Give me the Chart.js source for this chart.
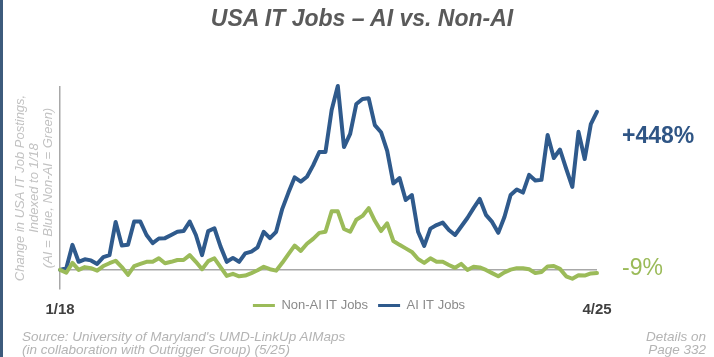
<!DOCTYPE html>
<html>
<head>
<meta charset="utf-8">
<script src="https://cdn.jsdelivr.net/npm/chart.js@4/dist/chart.umd.min.js"></script>
<style>
  html, body { margin: 0; padding: 0; background: #ffffff; }
  #wrap { position: relative; width: 714px; height: 357px; overflow: hidden; font-family: "Liberation Sans", Arial, sans-serif; }
  #c { position: absolute; left: 0; top: 0; }
  .t { position: absolute; white-space: nowrap; }
  #edge { position: absolute; left: 0; top: 0; width: 3px; height: 357px; background: #3d5b7c; }
  #title { left: 0; width: 724px; top: 7px; text-align: center; font-size: 23px; line-height: 23px; font-weight: bold; font-style: italic; color: #5a5a5a; }
  #lblAI { left: 622px; top: 124px; font-size: 23px; line-height: 23px; font-weight: bold; color: #2f5585; }
  #lblNon { left: 622px; top: 256px; font-size: 23px; line-height: 23px; color: #9bbb59; }
  #source { left: 22px; top: 330px; font-size: 13.5px; line-height: 13px; font-style: italic; color: #b4b4b4; }
  #details { right: 8px; top: 330px; font-size: 13.5px; line-height: 13px; font-style: italic; color: #b4b4b4; text-align: right; }
</style>
</head>
<body>
<div id="wrap">
  <canvas id="c" width="714" height="357"></canvas>
  <div id="edge"></div>
  <div class="t" id="title">USA IT Jobs – AI vs. Non-AI</div>
  <div class="t" id="lblAI">+448%</div>
  <div class="t" id="lblNon">-9%</div>
  <div class="t" id="source">Source: University of Maryland's UMD-LinkUp AIMaps<br>(in collaboration with Outrigger Group) (5/25)</div>
  <div class="t" id="details">Details on<br>Page 332</div>
</div>
<script>
// Monthly categories, 1/18 … 4/25
const months = [
  "1/18","2/18","3/18","4/18","5/18","6/18","7/18","8/18","9/18","10/18","11/18","12/18",
  "1/19","2/19","3/19","4/19","5/19","6/19","7/19","8/19","9/19","10/19","11/19","12/19",
  "1/20","2/20","3/20","4/20","5/20","6/20","7/20","8/20","9/20","10/20","11/20","12/20",
  "1/21","2/21","3/21","4/21","5/21","6/21","7/21","8/21","9/21","10/21","11/21","12/21",
  "1/22","2/22","3/22","4/22","5/22","6/22","7/22","8/22","9/22","10/22","11/22","12/22",
  "1/23","2/23","3/23","4/23","5/23","6/23","7/23","8/23","9/23","10/23","11/23","12/23",
  "1/24","2/24","3/24","4/24","5/24","6/24","7/24","8/24","9/24","10/24","11/24","12/24",
  "1/25","2/25","3/25","4/25"
];

// % change vs 1/18
const aiJobs = [
  0, 5, 71, 23, 30, 27, 17, 36, 42, 136, 69, 71,
  137, 137, 99, 76, 89, 90, 99, 108, 110, 137, 99, 42,
  110, 118, 66, 23, 34, 23, 47, 52, 64, 108, 90, 108,
  173, 219, 262, 250, 264, 296, 334, 334, 453, 521, 348, 385,
  470, 484, 486, 410, 390, 337, 245, 260, 198, 212, 108, 68,
  117, 127, 134, 113, 99, 123, 147, 175, 201, 156, 136, 105,
  150, 212, 228, 219, 269, 253, 255, 382, 317, 341, 287, 235,
  391, 314, 413, 448
];

const nonAiJobs = [
  0, -8, 20, 0, 8, 5, -2, 11, 19, 26, 8, -14,
  11, 17, 23, 23, 33, 19, 23, 28, 28, 42, 23, 2,
  25, 33, 8, -17, -11, -18, -16, -9, -1, 9, 2, -2,
  20, 45, 69, 54, 74, 88, 105, 108, 166, 166, 116, 108,
  142, 153, 175, 139, 110, 132, 82, 71, 61, 51, 31, 20,
  33, 23, 23, 14, 6, 17, 0, 9, 7, 0, -9, -18,
  -7, 1, 5, 5, 2, -9, -6, 10, 11, 3, -18, -25,
  -15, -16, -10, -9
];

const seriesNames = ["Non-AI IT Jobs", "AI IT Jobs"];
const shownTicks = ["1/18", "4/25"];
const yAxisTitle = ["Change in USA IT Job Postings,", "Indexed to 1/18", "(AI = Blue, Non-AI = Green)"];

const FONT = "'Liberation Sans', Arial, sans-serif";
const GREEN = "#9bbb59";
const BLUE = "#2f5a8c";
const AXIS = "#a8a8a8";

new Chart(document.getElementById("c"), {
  type: "line",
  data: {
    labels: months,
    datasets: [
      { label: seriesNames[0], data: nonAiJobs, borderColor: GREEN, backgroundColor: GREEN,
        borderWidth: 4, pointRadius: 0, tension: 0, clip: false, borderJoinStyle: "round", borderCapStyle: "round" },
      { label: seriesNames[1], data: aiJobs, borderColor: BLUE, backgroundColor: BLUE,
        borderWidth: 4, pointRadius: 0, tension: 0, clip: false, borderJoinStyle: "round", borderCapStyle: "round" }
    ]
  },
  options: {
    responsive: false,
    animation: false,
    devicePixelRatio: 1,
    layout: { padding: { left: 5, right: 1, top: 87, bottom: 35 } },
    plugins: {
      title: { display: false },
      tooltip: { enabled: false },
      legend: {
        position: "bottom",
        labels: {
          boxWidth: 22, boxHeight: 3, padding: 10,
          color: "#8a8a8a",
          font: { family: FONT, size: 13 },
          generateLabels: (chart) => Chart.defaults.plugins.legend.labels.generateLabels(chart)
            .map(l => Object.assign(l, { fillStyle: l.strokeStyle, lineWidth: 0 }))
        }
      }
    },
    scales: {
      x: {
        type: "category",
        grid: { display: false, drawTicks: false },
        border: { display: false },
        ticks: {
          autoSkip: false, maxRotation: 0, padding: 12,
          color: "#404040",
          font: { family: FONT, size: 15, weight: "bold" },
          callback: function (value, index) {
            const lab = this.getLabelForValue(value);
            return shownTicks.includes(lab) ? lab : "";
          }
        },
        afterFit: (axis) => {
          // the axis takes no layout height so the legend shares its row;
          // labels are drawn without clipping to the (zero-height) axis box
          axis.height = 0;
          axis._computeLabelArea = () => undefined;
        }
      },
      y: {
        position: "left",
        min: -54, max: 518,
        grid: { display: true, drawTicks: false, color: AXIS, lineWidth: 1.5 },
        border: { display: true, color: AXIS, width: 1.5 },
        ticks: { display: false },
        afterBuildTicks: (axis) => { axis.ticks = [{ value: 0 }]; },
        title: {
          display: true,
          text: yAxisTitle,
          color: "#c2c2c2",
          font: { family: FONT, size: 13, style: "italic", lineHeight: 1.08 },
          padding: { top: 8, bottom: 5 }
        }
      },
      yRight: {
        position: "right",
        display: true,
        grid: { display: false, drawTicks: false },
        border: { display: false },
        ticks: { display: false },
        afterFit: (axis) => { axis.width = 116; }
      }
    }
  }
});
</script>
</body>
</html>
